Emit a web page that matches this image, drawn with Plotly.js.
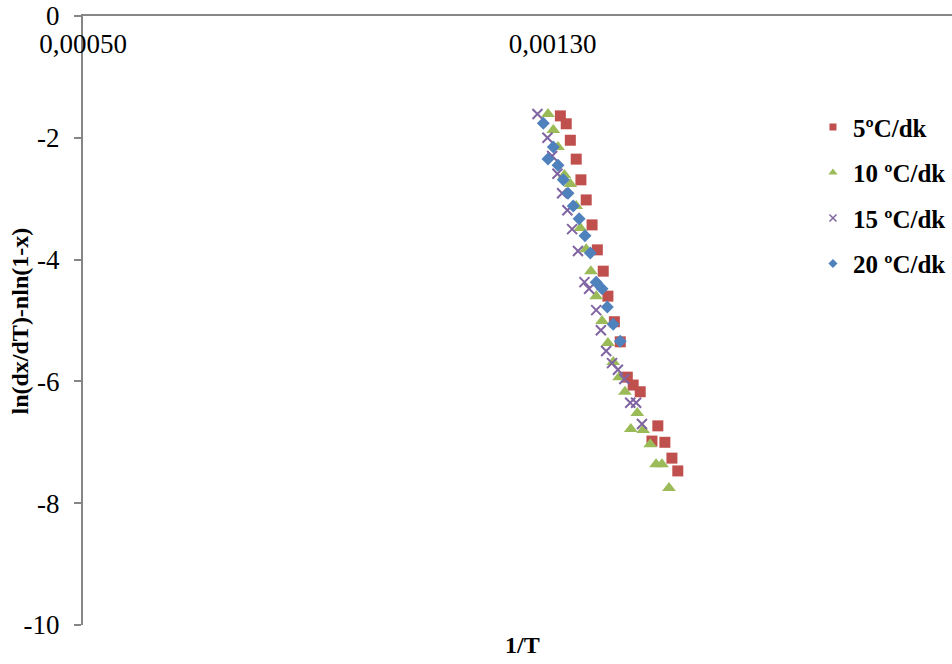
<!DOCTYPE html>
<html>
<head>
<meta charset="utf-8">
<script src="https://cdn.plot.ly/plotly-3.0.1.min.js"></script>
<style>
  html, body { margin: 0; padding: 0; background: #ffffff; }
  #chart { width: 952px; height: 664px; }
</style>
</head>
<body>
<div id="chart"></div>
<script>
// Heating-rate series: 1/T against ln(dx/dT) - n ln(1-x)
const seriesNames = ['5ºC/dk', '10 ºC/dk', '15 ºC/dk', '20 ºC/dk'];

const x5 = [0.001313, 0.001323, 0.001330, 0.001340, 0.001348, 0.001357, 0.001367, 0.001376, 0.001386, 0.001394,
            0.001405, 0.001415, 0.001427, 0.001437, 0.001449, 0.001479, 0.001469, 0.001491, 0.001503, 0.001513];
const y5 = [-1.64, -1.77, -2.04, -2.35, -2.69, -3.02, -3.43, -3.84, -4.19, -4.60,
            -5.02, -5.35, -5.93, -6.06, -6.17, -6.73, -6.98, -7.00, -7.26, -7.47];

const x10 = [0.001292, 0.001301, 0.001309, 0.001320, 0.001330, 0.001340, 0.001347, 0.001357, 0.001365, 0.001374, 0.001384,
             0.001394, 0.001403, 0.001413, 0.001423, 0.001444, 0.001433, 0.001454, 0.001466, 0.001476, 0.001486, 0.001498];
const y10 = [-1.61, -1.87, -2.15, -2.61, -2.76, -3.12, -3.48, -3.83, -4.19, -4.60, -5.01,
             -5.37, -5.68, -5.93, -6.17, -6.52, -6.78, -6.80, -7.03, -7.36, -7.36, -7.75];

const x15 = [0.001274, 0.001291, 0.001299, 0.001308, 0.001316, 0.001325, 0.001333, 0.001343, 0.001354, 0.001362,
             0.001374, 0.001382, 0.001391, 0.001401, 0.001411, 0.001422, 0.001432, 0.001442, 0.001452];
const y15 = [-1.61, -2.00, -2.30, -2.59, -2.91, -3.19, -3.50, -3.86, -4.37, -4.48,
             -4.83, -5.16, -5.50, -5.70, -5.81, -5.96, -6.35, -6.35, -6.70];

const x20 = [0.001284, 0.001301, 0.001292, 0.001309, 0.001318, 0.001326, 0.001335, 0.001345, 0.001355, 0.001364,
             0.001374, 0.001384, 0.001393, 0.001403, 0.001415];
const y20 = [-1.76, -2.15, -2.35, -2.45, -2.69, -2.91, -3.12, -3.33, -3.61, -3.89,
             -4.37, -4.48, -4.78, -5.06, -5.34];

const yTickValues = [0, -2, -4, -6, -8, -10];
const yTickLabels = ['0', '-2', '-4', '-6', '-8', '-10'];

const FONT = '"Liberation Serif", "Times New Roman", serif';

const colors = ['#C0504D', '#9BBB59', '#8064A2', '#4F81BD'];
const markers = [
  { symbol: 'square', size: 11, color: colors[0] },
  { symbol: 'triangle-up', size: 12, color: colors[1] },
  { symbol: 'x-thin', size: 10, color: colors[2], line: { color: colors[2], width: 2 } },
  { symbol: 'diamond', size: 10, color: colors[3] }
];
const legendMarkers = [
  { symbol: 'square', size: 7, color: colors[0] },
  { symbol: 'triangle-up', size: 8, color: colors[1] },
  { symbol: 'x-thin', size: 7, color: colors[2], line: { color: colors[2], width: 1.5 } },
  { symbol: 'diamond', size: 7, color: colors[3] }
];

const xs = [x5, x10, x15, x20];
const ys = [y5, y10, y15, y20];

const traces = [];
xs.forEach((xv, i) => {
  traces.push({
    type: 'scatter', mode: 'markers', x: xv, y: ys[i],
    name: seriesNames[i], marker: markers[i], showlegend: false, cliponaxis: false
  });
});
// legend entries with smaller symbols
seriesNames.forEach((nm, i) => {
  traces.push({
    type: 'scatter', mode: 'markers', x: [null], y: [null],
    name: nm, marker: legendMarkers[i], legendgroup: 'g' + i, showlegend: true
  });
});

const layout = {
  width: 952, height: 664,
  margin: { l: 83, r: 0, t: 16, b: 39 },
  paper_bgcolor: '#ffffff', plot_bgcolor: '#ffffff',
  separators: ', ',
  font: { family: FONT, size: 27, color: '#000000' },
  showlegend: true,
  legend: {
    x: 0.84, y: 0.855, xanchor: 'left', yanchor: 'top',
    font: { family: FONT, size: 25, color: '#000000', weight: 'bold' },
    tracegroupgap: 10, itemwidth: 30, bgcolor: 'rgba(0,0,0,0)'
  },
  xaxis: {
    side: 'top',
    range: [0.0005, 0.00198],
    tick0: 0.0005, dtick: 0.0008,
    tickformat: '.5f',
    ticks: '',
    ticklabelposition: 'inside',
    ticklabeloverflow: 'allow',
    ticklabelstandoff: 21,
    showline: true, linecolor: '#868686', linewidth: 2,
    showgrid: false, zeroline: false,
    tickfont: { family: FONT, size: 27, color: '#000000' }
  },
  yaxis: {
    range: [-10, 0],
    tickvals: yTickValues, ticktext: yTickLabels,
    ticks: 'outside', ticklen: 7, tickwidth: 2, tickcolor: '#868686',
    ticklabelstandoff: 9,
    showline: true, linecolor: '#868686', linewidth: 2,
    showgrid: false, zeroline: false,
    tickfont: { family: FONT, size: 27, color: '#000000' }
  },
  annotations: [
    {
      text: '<b>1/T</b>', xref: 'paper', yref: 'paper', x: 0.5, y: 0,
      xshift: 5, yshift: -20, showarrow: false, yanchor: 'middle',
      font: { family: FONT, size: 24, color: '#000000' }
    },
    {
      text: '<b>ln(dx/dT)-nln(1-x)</b>', xref: 'paper', yref: 'paper', x: -0.0725, y: 0.5,
      textangle: -90, showarrow: false, xanchor: 'center', yanchor: 'middle',
      font: { family: FONT, size: 24, color: '#000000' }
    }
  ]
};

Plotly.newPlot('chart', traces, layout, { displayModeBar: false, staticPlot: true });
</script>
</body>
</html>
